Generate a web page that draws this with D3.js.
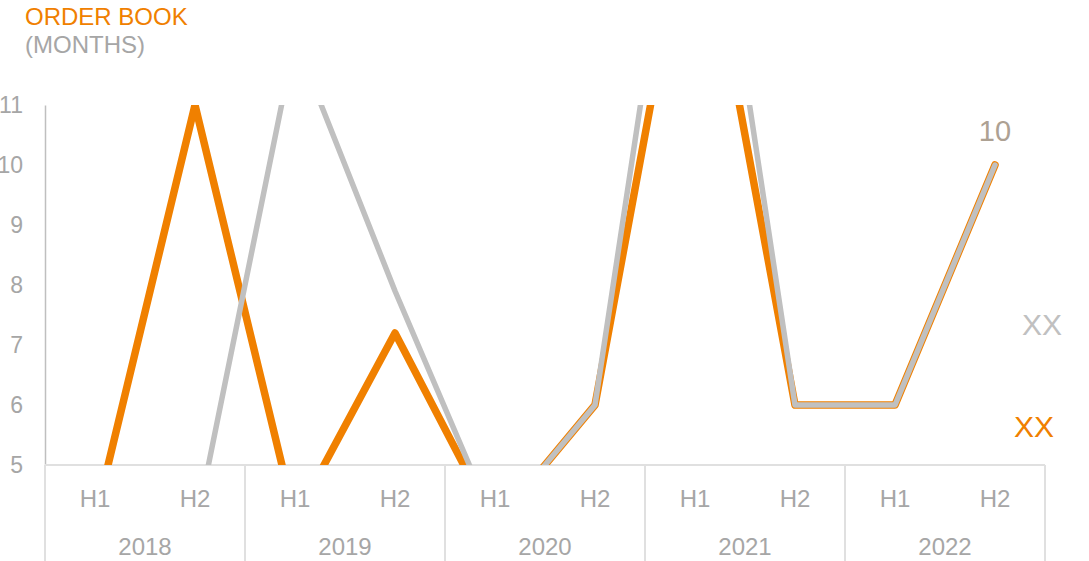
<!DOCTYPE html>
<html>
<head>
<meta charset="utf-8">
<script src="https://cdn.jsdelivr.net/npm/d3@7"></script>
<style>
    body { margin: 0; background: #fff; }
    text { font-family: "Liberation Sans", Arial, sans-serif; }
</style>
</head>
<body>
<div class="chart"></div>
<script>
// order book in months, half-year periods
const years = ["2018", "2019", "2020", "2021", "2022"];
const halves = ["H1", "H2"];
const periods = ["2018 H1","2018 H2","2019 H1","2019 H2","2020 H1","2020 H2","2021 H1","2021 H2","2022 H1","2022 H2"];
const orangeSeries = [4.1, 11, 4.1, 7.2, 4.0, 6, 15, 6, 6, 10];
const graySeries = [4.0, 3.9, 12.1, 7.9, 4.0, 6, 17, 6, 6, 10];
const yTicks = [5, 6, 7, 8, 9, 10, 11];

function chart(){
    const width = 1089, height = 561;
    const margin = {top:105, left:45, right:44, bottom:96};

    const orange = "#F08000", gray = "#C0C0C0", textGray = "#A6A6A6";

    const svg = d3.select('.chart').append('svg')
        .attr("width", width)
        .attr("height", height);

    const xScale = d3.scalePoint()
        .domain(periods)
        .range([margin.left, width - margin.right])
        .padding(0.5);

    const yearScale = d3.scaleBand()
        .domain(years)
        .range([margin.left, width - margin.right]);

    const yScale = d3.scaleLinear()
        .domain([5, 11])
        .range([height - margin.bottom, margin.top]);

    // title
    svg.append("text").attr("x", 25).attr("y", 25)
        .text("ORDER BOOK").attr("fill", orange).style("font-size", "24px");
    svg.append("text").attr("x", 25).attr("y", 53)
        .text("(MONTHS)").attr("fill", textGray).style("font-size", "24px");

    // y axis
    const yAxis = d3.axisLeft(yScale).tickValues(yTicks).tickFormat(d3.format("d"))
        .tickSize(0).tickPadding(22);
    const yg = svg.append("g")
        .attr("class", "axis y-axis")
        .attr("transform", `translate(${margin.left},0)`)
        .call(yAxis);
    yg.select(".domain").attr("stroke", "#BFBFBF").attr("stroke-width", 1.5);
    yg.selectAll("text").attr("fill", textGray).style("font-size", "23px");

    // category axis lines
    const bottom = yScale(5);
    svg.append("line")
        .attr("x1", margin.left).attr("x2", width - margin.right)
        .attr("y1", bottom).attr("y2", bottom)
        .attr("stroke", "#E0E0E0").attr("stroke-width", 2);

    const seps = years.map(d => yearScale(d)).concat([yearScale.range()[1]]);
    svg.selectAll(".sep")
        .data(seps)
        .enter()
        .append("line")
        .attr("class", "sep")
        .attr("x1", d => d).attr("x2", d => d)
        .attr("y1", bottom).attr("y2", height)
        .attr("stroke", "#E0E0E0").attr("stroke-width", 2);

    svg.selectAll(".hlabel")
        .data(periods)
        .enter()
        .append("text")
        .attr("class", "hlabel")
        .attr("x", d => xScale(d))
        .attr("y", 507)
        .attr("text-anchor", "middle")
        .attr("fill", textGray)
        .style("font-size", "24px")
        .text(d => d.split(" ")[1]);

    svg.selectAll(".ylabel")
        .data(years)
        .enter()
        .append("text")
        .attr("class", "ylabel")
        .attr("x", d => yearScale(d) + yearScale.bandwidth() / 2)
        .attr("y", 555)
        .attr("text-anchor", "middle")
        .attr("fill", textGray)
        .style("font-size", "24px")
        .text(d => d);

    // lines, clipped to the plot area
    svg.append("clipPath").attr("id", "plot")
        .append("rect")
        .attr("x", margin.left).attr("y", margin.top)
        .attr("width", width - margin.left - margin.right)
        .attr("height", bottom - margin.top);

    const line = d3.line()
        .x((d, i) => xScale(periods[i]))
        .y(d => yScale(d));

    const plot = svg.append("g").attr("clip-path", "url(#plot)");

    plot.append("path")
        .datum(orangeSeries)
        .attr("d", line)
        .attr("fill", "none")
        .attr("stroke", orange)
        .attr("stroke-width", 7.5)
        .attr("stroke-linejoin", "round")
        .attr("stroke-linecap", "round");

    plot.append("path")
        .datum(graySeries)
        .attr("d", line)
        .attr("fill", "none")
        .attr("stroke", gray)
        .attr("stroke-width", 5.5)
        .attr("stroke-linejoin", "round")
        .attr("stroke-linecap", "round");

    // end labels
    const last = periods[periods.length - 1];
    svg.append("text")
        .attr("x", xScale(last))
        .attr("y", 141)
        .attr("text-anchor", "middle")
        .attr("fill", "#ADA193")
        .style("font-size", "29px")
        .text(d3.format("d")(orangeSeries[orangeSeries.length - 1]));

    svg.append("text")
        .attr("x", 1022).attr("y", 335)
        .attr("fill", gray)
        .style("font-size", "30px")
        .text("XX");

    svg.append("text")
        .attr("x", 1014).attr("y", 437)
        .attr("fill", orange)
        .style("font-size", "30px")
        .text("XX");
}

chart();
</script>
</body>
</html>
